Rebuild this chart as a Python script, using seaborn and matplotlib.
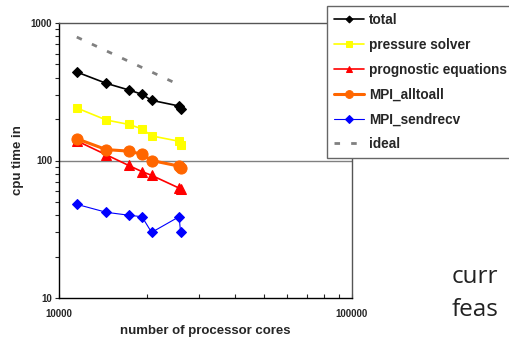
import numpy as np
import pandas as pd
import seaborn as sns
import matplotlib.pyplot as plt
from matplotlib.ticker import LogLocator, NullFormatter, FixedLocator, FixedFormatter

# cores (the last run was done twice at nearly the same size)
cores = [11500, 14500, 17300, 19200, 20700, 25700, 26000]

total = [440, 364, 326, 303, 274, 249, 236]
pressure_solver = [241, 197, 183, 170, 151, 138, 129]
prognostic = [139, 110, 92, 83, 78, 63, 62.5]
mpi_alltoall = [144, 120, 117, 111, 100, 91, 88]
mpi_sendrecv = [48, 42, 40, 39, 30, 39, 30]

ideal_cores = [11500, 25000]
ideal = [790, 365]

series = [
    ("total", total, "black", "D", 5, 1.2),
    ("pressure solver", pressure_solver, "#FFFF00", "s", 6, 1.2),
    ("prognostic equations", prognostic, "#FF0000", "^", 6.5, 1.2),
    ("MPI_alltoall", mpi_alltoall, "#FF6600", "o", 8, 2.2),
    ("MPI_sendrecv", mpi_sendrecv, "#0000FF", "D", 5.5, 0.8),
]

sns.set_style("ticks")
plt.rcParams["font.family"] = ["Liberation Sans", "DejaVu Sans"]

fig = plt.figure(figsize=(5.09, 3.42), dpi=100)
ax = fig.add_axes([59 / 509, 1 - 298 / 342, (352 - 59) / 509, (298 - 23) / 342])

for name, vals, col, mk, ms, lw in series:
    sns.lineplot(x=cores, y=vals, sort=False, estimator=None, color=col,
                 marker=mk, markersize=ms, markeredgecolor=col, linewidth=lw,
                 ax=ax, label=name, legend=False)

sns.lineplot(x=ideal_cores, y=ideal, sort=False, estimator=None, color="#808080",
             linestyle=(0, (2, 4)), linewidth=2, ax=ax, label="ideal", legend=False)

ax.set_xscale("log")
ax.set_yscale("log")
ax.set_xlim(10000, 100000)
ax.set_ylim(10, 1000)

ax.axhline(100, color="#808080", linewidth=1, zorder=0)

for s in ["left", "bottom"]:
    ax.spines[s].set_color("black")
    ax.spines[s].set_linewidth(1)
for s in ["top", "right"]:
    ax.spines[s].set_color("#555555")
    ax.spines[s].set_linewidth(1)

ax.yaxis.set_major_locator(FixedLocator([10, 100, 1000]))
ax.yaxis.set_major_formatter(FixedFormatter(["10", "100", "1000"]))
ax.yaxis.set_minor_locator(LogLocator(base=10, subs=np.arange(2, 10)))
ax.yaxis.set_minor_formatter(NullFormatter())
ax.xaxis.set_major_locator(FixedLocator([10000, 100000]))
ax.xaxis.set_major_formatter(FixedFormatter(["10000", "100000"]))
ax.xaxis.set_minor_locator(LogLocator(base=10, subs=np.arange(2, 10)))
ax.xaxis.set_minor_formatter(NullFormatter())

ax.tick_params(axis="y", which="both", direction="out", length=3, width=0.8, pad=2,
               labelsize=7)
ax.tick_params(axis="x", which="both", direction="in", length=3, width=0.8, pad=8,
               labelsize=7)
for lab in ax.get_xticklabels() + ax.get_yticklabels():
    lab.set_fontweight("bold")

ax.set_xlabel("number of processor cores", fontsize=9.5, fontweight="bold", labelpad=4)
ax.set_ylabel("cpu time in", fontsize=9.5, fontweight="bold", labelpad=5)

leg = fig.legend(loc="upper left", bbox_to_anchor=(327 / 509, 1 - 6 / 342),
                 frameon=True, fancybox=False, edgecolor="#666666", framealpha=1,
                 prop={"weight": "bold", "size": 9.8}, labelspacing=0.8,
                 handlelength=2.2, handletextpad=0.4, borderpad=0.5,
                 borderaxespad=0, markerscale=0.7)
leg.get_frame().set_linewidth(1)

fig.text(452 / 509, 1 - 283 / 342, "curr", fontsize=17.5, family="Open Sans",
         color="#222222", va="baseline", ha="left")
fig.text(452 / 509, 1 - 316 / 342, "feas", fontsize=17.5, family="Open Sans",
         color="#222222", va="baseline", ha="left")

fig.savefig("out.png", dpi=100)
